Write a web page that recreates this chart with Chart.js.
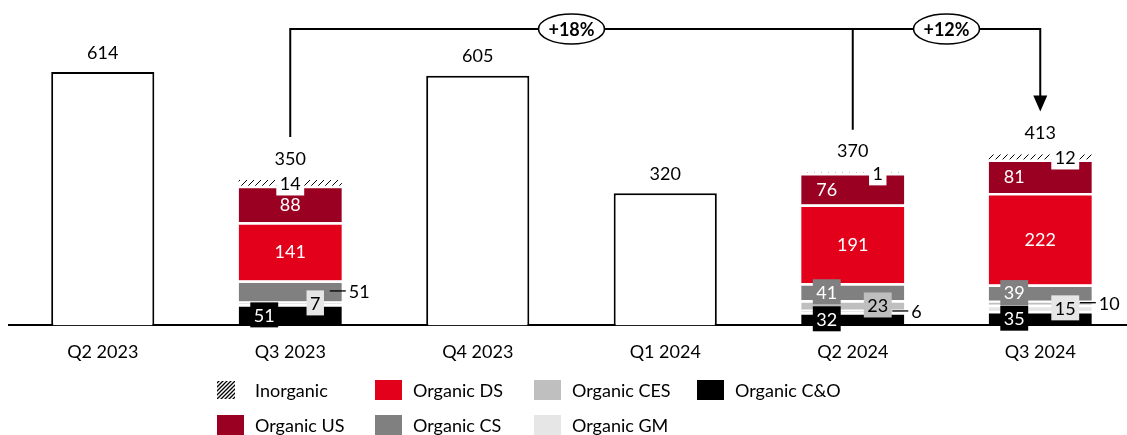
<!DOCTYPE html>
<html>
<head>
<meta charset="utf-8">
<script src="https://cdn.jsdelivr.net/npm/chart.js@4.4.1/dist/chart.umd.min.js"></script>
<style>
  html, body { margin: 0; padding: 0; background: #fff; overflow: hidden; }
  #wrap { width: 1143px; height: 435px; }
</style>
</head>
<body>
<div id="wrap"><canvas id="chart" width="1143" height="435"></canvas></div>
<script>
// ---- data ----
const quarters = ['Q2 2023', 'Q3 2023', 'Q4 2023', 'Q1 2024', 'Q2 2024', 'Q3 2024'];
const totalOnly  = [614, null, 605, 320, null, null];
const organicCO  = [null, 51, null, null, 32, 35];
const organicGM  = [null, 7, null, null, 6, 15];
const organicCES = [null, null, null, null, 23, 10];
const organicCS  = [null, 51, null, null, 41, 39];
const organicDS  = [null, 141, null, null, 191, 222];
const organicUS  = [null, 88, null, null, 76, 81];
const inorganic  = [null, 14, null, null, 1, 12];
const stackTotals = [null, 350, null, null, 370, 413];
const growth = [
  { from: 1, to: 4, text: '+18%' },
  { from: 4, to: 5, text: '+12%' }
];

// ---- styles ----
const FONT = 'Lato, "Liberation Sans", sans-serif';
const RED = '#E2001A', DARKRED = '#9A0021', MIDGRAY = '#808080', LIGHTGRAY = '#BFBFBF', PALEGRAY = '#E6E6E6';

function hatchPattern(size, lw) {
  const c = document.createElement('canvas');
  c.width = c.height = size;
  const g = c.getContext('2d');
  g.fillStyle = '#fff';
  g.fillRect(0, 0, size, size);
  g.strokeStyle = '#000';
  g.lineWidth = lw;
  g.beginPath();
  g.moveTo(0, size); g.lineTo(size, 0);
  g.moveTo(-2, 2); g.lineTo(2, -2);
  g.moveTo(size - 2, size + 2); g.lineTo(size + 2, size - 2);
  g.stroke();
  return g.createPattern(c, 'repeat');
}
const HATCH = hatchPattern(7, 1);

const gap = { top: 2.5, left: 0, right: 0, bottom: 0 };

// label placement per dataset: center / left / right / leader
const datasets = [
  { label: 'Organic C&O', data: organicCO, backgroundColor: '#000', place: [null, 'left', null, null, 'left', 'left'], box: true, text: '#fff' },
  { label: 'Organic GM', data: organicGM, backgroundColor: PALEGRAY, place: [null, 'right', null, null, 'leader', 'right'], box: true, text: '#000' },
  { label: 'Organic CES', data: organicCES, backgroundColor: LIGHTGRAY, place: [null, null, null, null, 'right', 'leader'], box: true, text: '#000' },
  { label: 'Organic CS', data: organicCS, backgroundColor: MIDGRAY, place: [null, 'leader', null, null, 'left', 'left'], box: true, text: '#fff' },
  { label: 'Organic DS', data: organicDS, backgroundColor: RED, place: [null, 'center', null, null, 'center', 'center'], box: false, text: '#fff' },
  { label: 'Organic US', data: organicUS, backgroundColor: DARKRED, place: [null, 'center', null, null, 'left', 'left'], box: false, text: '#fff' },
  { label: 'Inorganic', data: inorganic, backgroundColor: HATCH, place: [null, 'center', null, null, 'right', 'right'], box: true, boxColor: '#fff', text: '#000', noGap: true },
  { label: 'Total', data: totalOnly, backgroundColor: '#fff', borderColor: '#000', borderWidth: 2, borderSkipped: 'bottom', total: true }
].map(d => Object.assign({
  stack: 's',
  borderColor: '#fff',
  borderWidth: d.noGap ? 0 : gap,
  borderSkipped: false,
  barPercentage: 0.55,
  categoryPercentage: 1
}, d));

const legendRows = [
  ['Inorganic', 'Organic DS', 'Organic CES', 'Organic C&O'],
  ['Organic US', 'Organic CS', 'Organic GM']
];
const legendCols = [217, 375, 534, 697];
const legendRowY = [390, 425];

// ---- plugins ----
const valueLabels = {
  id: 'valueLabels',
  afterDatasetsDraw(chart) {
    const ctx = chart.ctx;
    ctx.save();
    ctx.font = '18px ' + FONT;
    ctx.textBaseline = 'middle';
    chart.data.datasets.forEach((ds, di) => {
      const meta = chart.getDatasetMeta(di);
      meta.data.forEach((el, i) => {
        const v = ds.data[i];
        if (v == null) return;
        const p = el.getProps(['x', 'y', 'base', 'width'], true);
        if (ds.total) {
          ctx.textAlign = 'center';
          ctx.fillStyle = '#000';
          ctx.fillText(String(v), p.x, p.y - 19);
          return;
        }
        const place = ds.place[i];
        const cy = (p.y + p.base) / 2;
        const txt = String(v);
        const tw = ctx.measureText(txt).width;
        if (place === 'leader') {
          const right = p.x + p.width / 2;
          ctx.strokeStyle = '#000';
          ctx.lineWidth = 1.3;
          ctx.beginPath();
          ctx.moveTo(right - 12, cy);
          ctx.lineTo(right + 4, cy);
          ctx.stroke();
          ctx.textAlign = 'left';
          ctx.fillStyle = '#000';
          ctx.fillText(txt, right + 7, cy + 1);
          return;
        }
        let x = p.x;
        if (place === 'left') x = p.x - 26;
        if (place === 'right') x = p.x + 25;
        if (ds.box) {
          const w = tw + 7, h = 25;
          ctx.fillStyle = ds.boxColor || ds.backgroundColor;
          ctx.fillRect(x - w / 2, cy - h / 2, w, h);
        }
        ctx.textAlign = 'center';
        ctx.fillStyle = ds.text;
        ctx.fillText(txt, x, cy + 1);
      });
    });
    // totals of the stacked quarters
    const topMeta = chart.getDatasetMeta(6);
    stackTotals.forEach((t, i) => {
      if (t == null) return;
      const el = topMeta.data[i];
      ctx.textAlign = 'center';
      ctx.fillStyle = '#000';
      ctx.fillText(String(t), el.x, el.y - 21);
    });
    ctx.restore();
  }
};

const growthArrows = {
  id: 'growthArrows',
  afterDraw(chart) {
    const ctx = chart.ctx;
    const xs = chart.scales.x;
    const topMeta = chart.getDatasetMeta(6);
    const lineY = 29;
    const endY = i => topMeta.data[i].y - 43;
    ctx.save();
    ctx.strokeStyle = '#000';
    ctx.fillStyle = '#000';
    ctx.lineWidth = 2;
    const x1 = xs.getPixelForValue(1), x2 = xs.getPixelForValue(4), x3 = xs.getPixelForValue(5);
    ctx.beginPath();
    ctx.moveTo(x1, endY(1)); ctx.lineTo(x1, lineY); ctx.lineTo(x3, lineY); ctx.lineTo(x3, endY(5) - 15);
    ctx.moveTo(x2, lineY); ctx.lineTo(x2, endY(4));
    ctx.stroke();
    // arrow head
    ctx.beginPath();
    ctx.moveTo(x3, endY(5));
    ctx.lineTo(x3 - 7, endY(5) - 16);
    ctx.lineTo(x3 + 7, endY(5) - 16);
    ctx.closePath();
    ctx.fill();
    // ovals
    ctx.font = 'bold 18px ' + FONT;
    ctx.textAlign = 'center';
    ctx.textBaseline = 'middle';
    growth.forEach(g => {
      const cx = (xs.getPixelForValue(g.from) + xs.getPixelForValue(g.to)) / 2;
      ctx.beginPath();
      ctx.ellipse(cx, lineY, 33, 15, 0, 0, Math.PI * 2);
      ctx.fillStyle = '#fff';
      ctx.fill();
      ctx.lineWidth = 1.6;
      ctx.stroke();
      ctx.fillStyle = '#000';
      ctx.fillText(g.text, cx, lineY + 1);
    });
    ctx.restore();
  }
};

const customLegend = {
  id: 'customLegend',
  afterDraw(chart) {
    const ctx = chart.ctx;
    ctx.save();
    ctx.font = '18px ' + FONT;
    ctx.textBaseline = 'middle';
    ctx.textAlign = 'left';
    legendRows.forEach((row, r) => {
      row.forEach((name, c) => {
        const ds = chart.data.datasets.find(d => d.label === name);
        const x = legendCols[c], y = legendRowY[r];
        if (name === 'Inorganic') {
          ctx.fillStyle = hatchPattern(4, 1.3);
          ctx.fillRect(x, y - 9, 18, 18);
        } else {
          ctx.fillStyle = ds.backgroundColor;
          ctx.fillRect(x, y - 10, 27, 20);
        }
        ctx.fillStyle = '#000';
        ctx.fillText(name, x + 38, y + 1);
      });
    });
    ctx.restore();
  }
};

new Chart(document.getElementById('chart'), {
  type: 'bar',
  data: { labels: quarters, datasets: datasets },
  options: {
    responsive: false,
    devicePixelRatio: 1,
    animation: false,
    layout: { padding: { top: 10, left: 9, right: 9, bottom: 56 } },
    plugins: { legend: { display: false }, tooltip: { enabled: false } },
    scales: {
      x: {
        stacked: true,
        grid: { display: false, drawTicks: false },
        border: { display: true, color: '#000', width: 2 },
        ticks: { color: '#000', padding: 16, font: { family: FONT, size: 18 } }
      },
      y: { stacked: true, display: false, min: 0, max: 764 }
    }
  },
  plugins: [valueLabels, growthArrows, customLegend]
});
</script>
</body>
</html>
